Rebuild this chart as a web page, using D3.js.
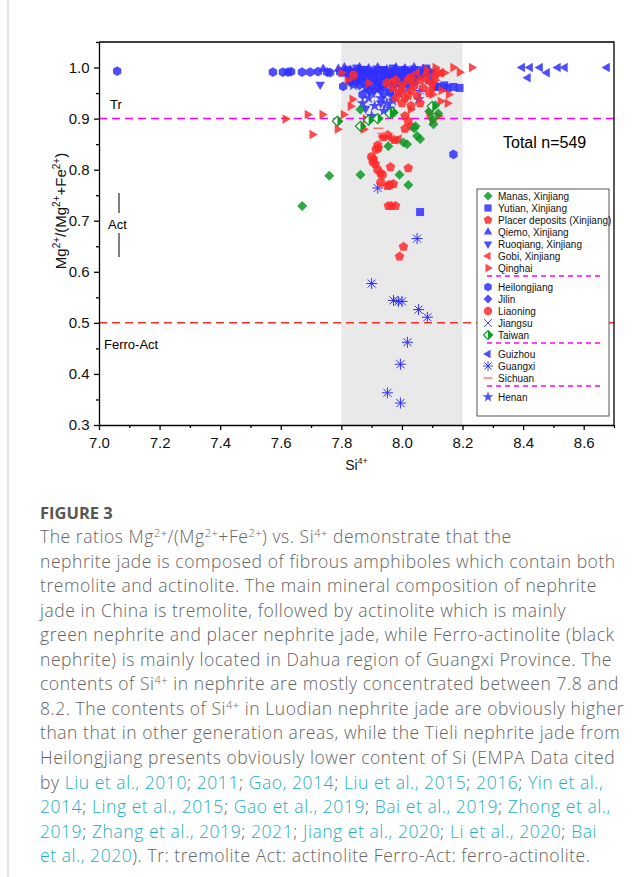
<!DOCTYPE html>
<html>
<head>
<meta charset="utf-8">
<script src="https://cdn.jsdelivr.net/npm/d3@7.9.0/dist/d3.min.js"></script>
<style>
  body { margin: 0; background: #fff; }
  svg text { font-family: "Liberation Sans", Arial, sans-serif; }
  .cap { font-family: "Open Sans", sans-serif; font-weight: 300; fill: #636363; letter-spacing: 0.55px; }
</style>
</head>
<body>
<svg id="fig" width="641" height="877"></svg>
<script>
// ---- data: [Si4+, Mg/(Mg+Fe)] ----
const manas = [[7.671,0.729],[7.76,0.788],[7.863,0.79],[7.992,0.79],[8.021,0.77],[7.863,0.918],
  [8.045,0.885],[8.05,0.866],[8.06,0.86],[8.017,0.85],[7.955,0.846],[8.09,0.914],[8.12,0.91],
  [8.104,0.889],[8.04,0.881],[8.005,0.853],[8.11,0.926],[8.10,0.90]];
const yutian = [[7.82,0.995],[7.84,0.99],[7.85,0.998],[7.87,0.985],[7.88,0.995],[7.90,0.99],[7.91,0.98],
  [7.93,0.995],[7.94,0.985],[7.96,0.99],[7.97,0.998],[7.99,0.985],[8.00,0.995],[8.02,0.99],[8.03,0.98],
  [8.05,0.995],[8.06,0.985],[8.08,0.99],[8.09,0.975],[8.11,0.963],[8.12,0.962],[8.14,0.965],[8.15,0.96],
  [8.17,0.962],[8.19,0.96],[8.06,0.717],[7.86,0.975],[7.92,0.97],[7.98,0.97],[8.04,0.97],
  [7.81,0.99],[7.83,0.985],[7.85,0.98],[7.87,0.995],[7.89,0.985],[7.91,0.99],[7.92,0.985],[7.94,0.995],
  [7.95,0.98],[7.97,0.985],[7.98,0.99],[8.00,0.985],[8.01,0.995],[8.03,0.99],[8.04,0.985],[8.07,0.99],
  [8.08,0.998],[8.10,0.99],[7.88,0.97],[7.90,0.965],[7.94,0.965],[7.96,0.97],[8.0,0.97]];
const placer = [[7.95,0.97],[7.97,0.96],[7.98,0.975],[7.99,0.95],[8.00,0.965],[8.01,0.94],[8.02,0.975],
  [8.03,0.955],[8.04,0.965],[8.05,0.945],[8.06,0.975],[8.07,0.96],[8.08,0.985],[8.09,0.95],[8.10,0.97],
  [8.11,0.985],[7.98,0.94],[8.00,0.93],[8.02,0.945],[8.12,0.99],
  [8.06,0.93],[8.03,0.925],[7.922,0.842],[7.906,0.821],[7.912,0.811],[7.929,0.793],[7.962,0.805],
  [8.021,0.803],[7.952,0.768],[7.972,0.772],[7.955,0.729],[7.965,0.729],[7.979,0.729],[8.005,0.649],
  [7.992,0.63],[8.01,0.905],[8.02,0.895],[8.03,0.885],[8.01,0.88],[7.937,0.864],[7.953,0.868],
  [7.975,0.858],[7.92,0.848]];
const qiemo = [[7.74,0.997],[7.79,0.997],[7.81,1.0],[7.83,0.995],[7.86,1.0],[7.89,0.998],[7.92,1.0],
  [7.95,0.996],[7.98,1.0],[8.01,0.998],[8.04,1.0],[8.07,0.997],[8.09,0.993],[7.84,0.98],[7.90,0.975],
  [7.96,0.978]];
const ruoqiang = [[7.73,0.967],[7.88,0.92],[7.85,0.97],[7.91,0.955],[7.94,0.945],[7.97,0.96],
  [8.0,0.975],[7.93,0.93],[7.82,0.985],[8.03,0.985]];
const gobi = [[7.94,0.865],[7.96,0.862],[7.98,0.858],[7.99,0.86],[8.05,0.99],[8.08,0.975],[8.13,0.99],
  [8.10,0.96],[8.0,0.955],[7.97,0.975]];
const qinghai = [[7.615,0.899],[7.688,0.908],[7.737,0.908],[7.807,0.908],[7.704,0.869],[7.787,0.879],
  [7.836,0.938],[7.83,0.924],[7.89,0.969],[8.028,0.918],[8.10,0.895],[8.15,0.93],[8.154,0.947],
  [8.10,0.947],[8.127,0.934],[7.88,0.899],[7.873,0.879],[8.169,1.0],[8.19,0.991],[8.23,1.0],
  [8.14,0.99],[8.11,0.975],[8.08,0.995],[8.13,0.955],[7.80,0.99],[7.82,0.975],[8.09,0.91],[8.12,0.905],
  [8.11,1.0]];
const heilongjiang = [[7.06,0.993],[7.574,0.991],[7.607,0.991],[7.624,0.991],[7.634,0.992],[7.67,0.991],
  [7.697,0.991],[7.723,0.992],[7.753,0.991],[7.763,0.99],[7.796,0.991],[7.806,0.963],[7.83,0.975],
  [7.87,0.947],[8.17,0.83]];
const jilin = [[7.85,0.99],[7.88,0.98],[7.91,0.995],[7.94,0.975],[7.97,0.99],[8.0,0.98],[8.03,0.995],
  [7.96,0.95],[7.92,0.96],[7.83,0.97],[7.86,0.965],[7.89,0.955],[7.93,0.955],[7.95,0.975],[7.99,0.975],
  [8.02,0.97],[8.05,0.98],[7.87,0.99],[7.98,0.98]];
const liaoning = [[7.915,0.84],[7.90,0.825],[7.905,0.815],[7.92,0.80],[7.935,0.79],[7.93,0.775],
  [7.96,0.77],[7.84,0.985],[8.03,0.98]];
const jiangsu = [[7.86,0.985],[7.89,0.995],[7.93,0.98],[7.95,0.99],[7.99,0.995],[8.01,0.985],[8.05,0.99],
  [7.98,0.96],[7.84,0.995],[7.88,0.99],[7.91,0.97],[7.97,0.965],[8.03,0.975],[8.07,0.985]];
const taiwan = [[7.787,0.895],[7.863,0.885],[7.89,0.897],[7.92,0.90],[7.97,0.912],[8.10,0.924],[7.96,0.91]];
const guizhou = [[8.397,1.0],[8.423,1.0],[8.456,1.0],[8.479,0.99],[8.416,0.98],[8.515,1.0],[8.538,1.0],
  [8.677,1.0]];
const guangxi = [[8.05,0.665],[7.90,0.577],[7.972,0.544],[7.988,0.542],[8.0,0.542],[8.055,0.526],
  [8.084,0.511],[8.018,0.462],[7.995,0.419],[7.952,0.363],[7.995,0.343],[7.92,0.764],[7.95,0.955],
  [8.06,0.955]];
const sichuan = [[7.922,0.881],[7.935,0.871]];
const henan = [[7.87,0.93],[7.89,0.94],[7.91,0.925],[7.93,0.94],[7.95,0.93],[7.94,0.915],[7.97,0.935],
  [7.96,0.92],[8.055,0.938],[7.99,0.95],[7.88,0.96],[7.92,0.97],[8.02,0.96],[7.90,0.905],
  [7.86,0.975],[7.90,0.95],[7.93,0.96],[7.97,0.945],[8.0,0.96],[7.84,0.965]];

const xTicks = [7.0, 7.2, 7.4, 7.6, 7.8, 8.0, 8.2, 8.4, 8.6];
const yTicks = [0.3, 0.4, 0.5, 0.6, 0.7, 0.8, 0.9, 1.0];

const BLUE = "#2f2fff", RED = "#ff2b2b", GREEN = "#0b9a22";

// legend order, split in the same four groups as the figure
const legendGroups = [
  [["manas","Manas, Xinjiang","diamond",GREEN,manas],
   ["yutian","Yutian, Xinjiang","square",BLUE,yutian],
   ["placer","Placer deposits (Xinjiang)","pentagon",RED,placer],
   ["qiemo","Qiemo, Xinjiang","triUp",BLUE,qiemo],
   ["ruoqiang","Ruoqiang, Xinjiang","triDown",BLUE,ruoqiang],
   ["gobi","Gobi, Xinjiang","triLeft",RED,gobi],
   ["qinghai","Qinghai","triRight",RED,qinghai]],
  [["heilongjiang","Heilongjiang","hexagon",BLUE,heilongjiang],
   ["jilin","Jilin","diamond",BLUE,jilin],
   ["liaoning","Liaoning","circle",RED,liaoning],
   ["jiangsu","Jiangsu","cross",BLUE,jiangsu],
   ["taiwan","Taiwan","halfDiamond",GREEN,taiwan]],
  [["guizhou","Guizhou","triLeft",BLUE,guizhou],
   ["guangxi","Guangxi","asterisk",BLUE,guangxi],
   ["sichuan","Sichuan","dash","#ff7070",sichuan]],
  [["henan","Henan","star",BLUE,henan]]
];
// drawing order (later ones on top)
const drawOrder = ["heilongjiang","yutian","qiemo","jilin","jiangsu","ruoqiang","guizhou","henan",
  "guangxi","placer","liaoning","gobi","qinghai","sichuan","manas","taiwan"];

const captionLines = [
  "The ratios Mg^{2+}/(Mg^{2+}+Fe^{2+}) vs. Si^{4+} demonstrate that the",
  "nephrite jade is composed of fibrous amphiboles which contain both",
  "tremolite and actinolite. The main mineral composition of nephrite",
  "jade in China is tremolite, followed by actinolite which is mainly",
  "green nephrite and placer nephrite jade, while Ferro-actinolite (black",
  "nephrite) is mainly located in Dahua region of Guangxi Province. The",
  "contents of Si^{4+} in nephrite are mostly concentrated between 7.8 and",
  "8.2. The contents of Si^{4+} in Luodian nephrite jade are obviously higher",
  "than that in other generation areas, while the Tieli nephrite jade from",
  "Heilongjiang presents obviously lower content of Si (EMPA Data cited",
  "by [Liu et al., 2010]; [2011]; [Gao, 2014]; [Liu et al., 2015]; [2016]; [Yin et al.,]",
  "[2014]; [Ling et al., 2015]; [Gao et al., 2019]; [Bai et al., 2019]; [Zhong et al.,]",
  "[2019]; [Zhang et al., 2019]; [2021]; [Jiang et al., 2020]; [Li et al., 2020]; [Bai]",
  "[et al., 2020]). Tr: tremolite Act: actinolite Ferro-Act: ferro-actinolite."
];

// ---- layout ----
const svg = d3.select("#fig");
const M = { left: 99, right: 614, top: 42, bottom: 425 };

const x = d3.scaleLinear().domain([7.0, 8.7]).range([M.left, M.right]);
const y = d3.scaleLinear().domain([0.3, 1.05]).range([M.bottom, M.top]);

// page border on the left
svg.append("line").attr("x1", 8).attr("x2", 8).attr("y1", 0).attr("y2", 877)
  .attr("stroke", "#d4d4d4").attr("stroke-width", 1.2);

// grey band 7.8 - 8.2
svg.append("rect").attr("x", x(7.8)).attr("y", M.top)
  .attr("width", x(8.2) - x(7.8)).attr("height", M.bottom - M.top).attr("fill", "#e9e9e9");

// reference lines
svg.append("line").attr("x1", M.left).attr("x2", M.right).attr("y1", y(0.9)).attr("y2", y(0.9))
  .attr("stroke", "#ff00ff").attr("stroke-width", 1.5).attr("stroke-dasharray", "8,5");
svg.append("line").attr("x1", M.left).attr("x2", M.right).attr("y1", y(0.5)).attr("y2", y(0.5))
  .attr("stroke", "#ff2b2b").attr("stroke-width", 1.5).attr("stroke-dasharray", "8,5");

// marker shapes
function poly(n, r, rot) {
  const pts = d3.range(n).map(i => {
    const a = rot + i * 2 * Math.PI / n;
    return [(r * Math.cos(a)).toFixed(2), (r * Math.sin(a)).toFixed(2)];
  });
  return "M" + pts.join("L") + "Z";
}
function drawMarker(g, shape, color) {
  const filled = (d) => g.append("path").attr("d", d).attr("fill", color).attr("fill-opacity", 0.85);
  const stroked = (d, w) => g.append("path").attr("d", d).attr("fill", "none")
    .attr("stroke", color).attr("stroke-width", w || 1);
  switch (shape) {
    case "diamond": filled(poly(4, 5, -Math.PI / 2)); break;
    case "square": filled("M-4,-4H4V4H-4Z"); break;
    case "pentagon": filled(poly(5, 5, -Math.PI / 2)); break;
    case "hexagon": filled(poly(6, 4.8, Math.PI / 6)); break;
    case "triUp": filled(poly(3, 5.5, -Math.PI / 2)); break;
    case "triDown": filled(poly(3, 5.5, Math.PI / 2)); break;
    case "triLeft": filled(poly(3, 5.5, Math.PI)); break;
    case "triRight": filled(poly(3, 5.5, 0)); break;
    case "circle": filled(d3.symbol(d3.symbolCircle, 68)()); break;
    case "star": filled(d3.symbol(d3.symbolStar, 45)()); break;
    case "cross": stroked("M-4.5,-4.5L4.5,4.5M-4.5,4.5L4.5,-4.5"); break;
    case "asterisk": stroked("M-5.5,0H5.5M0,-5.5V5.5M-4,-4L4,4M-4,4L4,-4"); break;
    case "dash": stroked("M-5,0H5", 1.5); break;
    case "halfDiamond":
      g.append("path").attr("d", poly(4, 5, -Math.PI / 2)).attr("fill", "#fff")
        .attr("stroke", color).attr("stroke-width", 1.2);
      g.append("path").attr("d", "M0,-5L5,0L0,5Z").attr("fill", color);
      break;
  }
}

const allSeries = legendGroups.flat();
const byKey = Object.fromEntries(allSeries.map(s => [s[0], s]));

const pts = svg.append("g");
drawOrder.forEach(k => {
  const [key, , shape, color, data] = byKey[k];
  pts.selectAll("g." + key).data(data).join("g").attr("class", key)
    .attr("transform", d => `translate(${x(d[0])},${y(d[1])})`)
    .each(function () { drawMarker(d3.select(this), shape, color); });
});

// axes
const xAxis = svg.append("g").attr("transform", `translate(0,${M.bottom})`)
  .call(d3.axisBottom(x).tickValues(xTicks).tickFormat(d3.format(".1f")).tickSize(5).tickSizeOuter(0));
svg.append("g").attr("transform", `translate(0,${M.bottom})`)
  .call(d3.axisBottom(x).tickValues(xTicks.map(t => t + 0.1)).tickFormat("").tickSize(3).tickSizeOuter(0))
  .select(".domain").remove();
const yAxis = svg.append("g").attr("transform", `translate(${M.left},0)`)
  .call(d3.axisLeft(y).tickValues(yTicks).tickFormat(d3.format(".1f")).tickSize(5).tickSizeOuter(0));
svg.append("g").attr("transform", `translate(${M.left},0)`)
  .call(d3.axisLeft(y).tickValues(yTicks.map(t => t + 0.05)).tickFormat("").tickSize(3).tickSizeOuter(0))
  .select(".domain").remove();
svg.selectAll(".tick line, .domain").attr("stroke", "#000").attr("stroke-width", 1.3);
xAxis.selectAll("text").attr("font-size", 15).attr("fill", "#111").attr("dy", "1.0em");
yAxis.selectAll("text").attr("font-size", 15).attr("fill", "#111").attr("dx", "-0.1em");

// frame top/right
svg.append("path").attr("d", `M${M.left},${M.top}H${M.right}V${M.bottom}`)
  .attr("fill", "none").attr("stroke", "#000").attr("stroke-width", 1.3);

// axis titles
const yt = svg.append("text").attr("transform", `translate(66,211) rotate(-90)`)
  .attr("text-anchor", "middle").attr("font-size", 15).attr("fill", "#111");
[["Mg", 0], ["2+", 1], ["/(Mg", 0], ["2+", 1], ["+Fe", 0], ["2+", 1], [")", 0]].forEach(([t, sup], i, a) => {
  const prevSup = i > 0 && a[i - 1][1];
  yt.append("tspan").text(t).attr("font-size", sup ? 10 : 15)
    .attr("dy", sup ? -6 : (prevSup ? 6 : 0));
});
const xt = svg.append("text").attr("x", x(7.85)).attr("y", 470).attr("text-anchor", "middle")
  .attr("font-size", 14).attr("fill", "#111");
xt.append("tspan").text("Si");
xt.append("tspan").text("4+").attr("font-size", 9).attr("dy", -6);

// region labels
svg.append("text").attr("x", 110).attr("y", 109).attr("font-size", 13).text("Tr");
svg.append("text").attr("x", 108).attr("y", 229).attr("font-size", 13).text("Act");
svg.append("line").attr("x1", 119).attr("x2", 119).attr("y1", 193).attr("y2", 213).attr("stroke", "#000");
svg.append("line").attr("x1", 119).attr("x2", 119).attr("y1", 233).attr("y2", 257).attr("stroke", "#000");
svg.append("text").attr("x", 104).attr("y", 349).attr("font-size", 13).text("Ferro-Act");
svg.append("text").attr("x", 503).attr("y", 148).attr("font-size", 16).text("Total n=549");

// legend
const lg = svg.append("g");
lg.append("rect").attr("x", 477).attr("y", 189).attr("width", 132).attr("height", 227)
  .attr("fill", "#fff").attr("stroke", "#555").attr("stroke-width", 1);
let ly = 196;
legendGroups.forEach((grp, gi) => {
  if (gi > 0) {
    lg.append("line").attr("x1", 487).attr("x2", 604).attr("y1", ly - 4).attr("y2", ly - 4)
      .attr("stroke", "#ff00ff").attr("stroke-width", 1.3).attr("stroke-dasharray", "5,4");
    ly += 7;
  }
  grp.forEach(([key, name, shape, color]) => {
    const row = lg.append("g").attr("transform", `translate(488,${ly})`);
    drawMarker(row.append("g").attr("transform", "scale(0.9)"), shape, color);
    row.append("text").attr("x", 10).attr("y", 3.5).attr("font-size", 10).attr("fill", "#111").text(name);
    ly += 12;
  });
});

// caption
svg.append("text").attr("x", 40).attr("y", 519)
  .attr("font-size", 16.5).attr("font-weight", 700).attr("fill", "#555")
  .style("font-family", "'Open Sans', sans-serif").text("FIGURE 3");
captionLines.forEach((line, i) => {
  const t = svg.append("text").attr("class", "cap").attr("x", 40).attr("y", 543 + i * 24.55)
    .attr("font-size", 17.5);
  const parts = line.split(/(\^\{[^}]*\}|\[[^\]]*\])/).filter(p => p.length);
  let sup = false;
  parts.forEach(p => {
    if (p.startsWith("^{")) {
      t.append("tspan").text(p.slice(2, -1)).attr("font-size", 11).attr("dy", -6).attr("fill", "#636363");
      sup = true;
    } else {
      const s = t.append("tspan").attr("dy", sup ? 6 : 0);
      sup = false;
      if (p.startsWith("[")) s.text(p.slice(1, -1)).attr("fill", "#22aec4");
      else s.text(p).attr("fill", "#636363");
    }
  });
});
</script>
</body>
</html>
